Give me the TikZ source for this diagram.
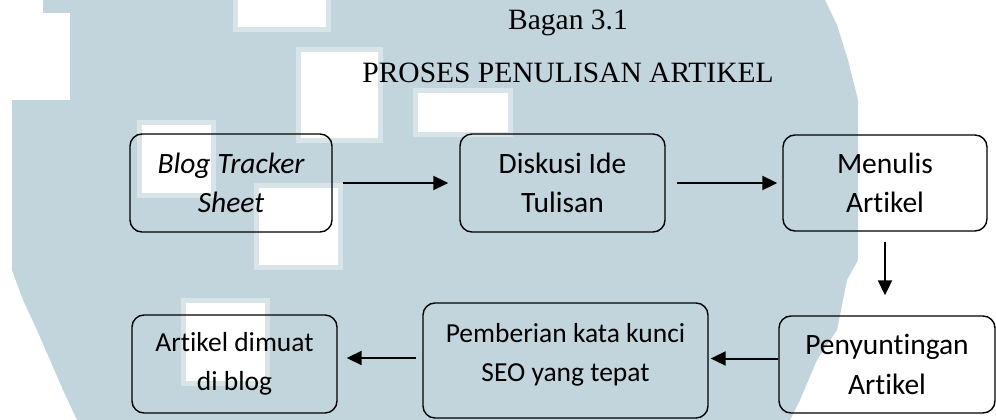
\documentclass[tikz,border=0pt]{standalone}
\usepackage{fontspec}
\setmainfont{Liberation Serif}
\newfontfamily\boxfont[Ligatures=NoCommon]{Carlito}
\usetikzlibrary{arrows.meta}
\definecolor{wm}{RGB}{194,213,220}
\definecolor{wmlight}{RGB}{216,228,232}
\tikzset{
  box/.style={draw=black, line width=1.4pt, rounded corners=12pt, align=center, inner sep=0pt,
    font=\boxfont\fontsize{29.5}{39.5}\selectfont, execute at begin node={\rule{0pt}{28pt}}},
  boxsmall/.style={box, font=\boxfont\fontsize{27.5}{38.5}\selectfont},
  arr/.style={line width=2pt, -{Triangle[length=15pt,width=14pt]}},
  ttl/.style={font=\fontsize{29.5}{34}\selectfont, inner sep=0pt, anchor=base},
  wsq/.style={fill=white, draw=wmlight, line width=5pt}
}
\begin{document}
\begin{tikzpicture}[x=1pt,y=-1pt]
\useasboundingbox (0,0) rectangle (996,420);
\fill[white] (0,0) rectangle (996,420);
% watermark
\fill[wm] (43,0) -- (825,0) -- (837,25) -- (848,60) -- (858,100) -- (858,260) -- (847,280)
  -- (837,330) -- (817,360) -- (800,400) -- (790,420) -- (77,420) -- (63,390) -- (50,360)
  -- (37,330) -- (23,300) -- (12,270) -- (12,100) -- (70,100) -- (70,13) -- (43,13) -- cycle;
\filldraw[wsq] (235,-5) rectangle (328,30);
\filldraw[wsq] (298,50) rectangle (380,140);
\filldraw[wsq] (415,90) rectangle (510,134);
\filldraw[wsq] (139,122) rectangle (213,195);
\filldraw[wsq] (256,185) rectangle (340,267);
\filldraw[wsq] (183,300) rectangle (267,383);
% titles
\node[ttl] (t1) at (568,30) {Bagan 3.1};
\node[ttl] (t2) at (568,82) {PROSES PENULISAN ARTIKEL};
% boxes
\node[box, minimum width=202pt, minimum height=98pt] (bts) at (231,183) {\itshape Blog Tracker\\\itshape Sheet};
\node[box, minimum width=205pt, minimum height=98pt] (dis) at (562.5,183) {Diskusi Ide\\Tulisan};
\node[box, minimum width=204pt, minimum height=96pt] (men) at (885,183) {Menulis\\Artikel};
\node[box, minimum width=216pt, minimum height=97pt] (pen) at (887,364.5) {Penyuntingan\\Artikel};
\node[boxsmall, minimum width=285pt, minimum height=115pt] (pem) at (565.5,360.5) {};
\node[boxsmall, draw=none, rounded corners=0pt] (pemt) at (565.5,355) {Pemberian kata kunci\\SEO yang tepat};
\node[boxsmall, minimum width=205pt, minimum height=98pt] (art) at (234.5,364) {Artikel dimuat\\di blog};
% arrows
\draw[arr, shorten <=10pt, shorten >=11pt] (bts) -- (dis);
\draw[arr, shorten <=11pt, shorten >=5pt] (dis) -- (men);
\draw[arr, shorten <=10pt, shorten >=20pt] (men.south) -- (men.south |- pen.north);
\draw[arr, shorten >=2pt] ([yshift=6pt]pen.west) -- ([yshift=6pt]pen.west -| pem.east);
\draw[arr, shorten <=6pt, shorten >=9pt] ([yshift=2.5pt]pem.west) -- ([yshift=2.5pt]pem.west -| art.east);
\end{tikzpicture}
\end{document}
